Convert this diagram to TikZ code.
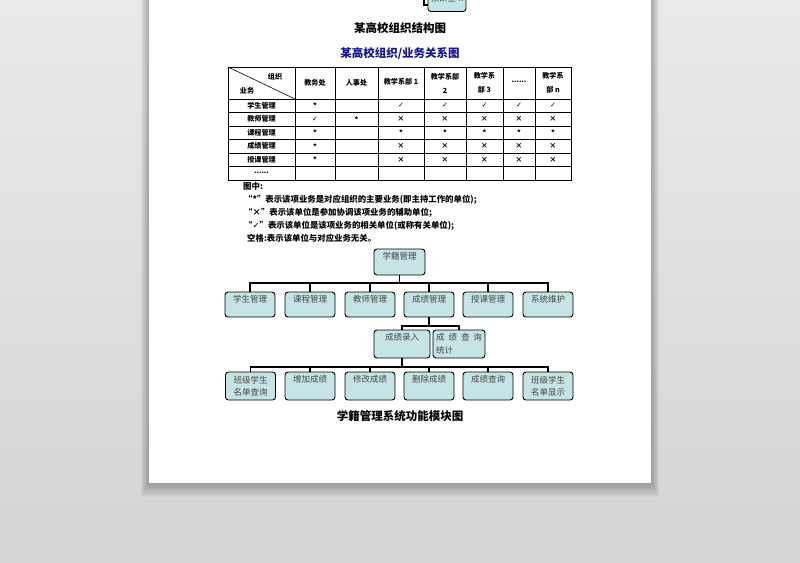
\documentclass[tikz,border=0pt]{standalone}
\usepackage{fontspec}
\setmainfont{Noto Sans CJK SC}
\newfontfamily\dvs{DejaVu Sans}
\usetikzlibrary{calc}
\definecolor{bgtop}{RGB}{234,234,234}
\definecolor{bgbot}{RGB}{212,212,212}
\definecolor{boxfill}{RGB}{198,228,229}
\definecolor{navyt}{RGB}{22,22,140}
\definecolor{boxtext}{RGB}{70,70,70}
\newcommand\rowdots{......}
\newcommand\ck{{\dvs\bfseries ✓}}
\newcommand\st{\raisebox{-1.5pt}{*}}
\tikzset{
  tcell/.style={inner sep=0pt, font=\bfseries\fontsize{7.1}{14}\selectfont, align=center},
  tline/.style={line width=0.6pt, black},
  legend/.style={inner sep=0pt, anchor=base west, font=\bfseries\fontsize{8.4}{9}\selectfont},
  ttl/.style={inner sep=0pt, font=\bfseries\fontsize{11.5}{13}\selectfont},
  tb/.style={draw=black, line width=0.9pt, fill=boxfill, rounded corners=3pt, text=boxtext,
     font=\fontsize{8.5}{12.5}\selectfont, inner xsep=1pt, inner ysep=2pt},
  tb1/.style={tb, minimum width=50pt, text height=8.5pt, text depth=12.5pt},
  tb2/.style={tb, minimum width=50pt, minimum height=28pt, align=center},
  conn/.style={line width=1.8pt, black, line cap=rect}
}
\begin{document}
\begin{tikzpicture}[x=1pt,y=-1pt]
\useasboundingbox (0,0) rectangle (800,562);
% background
\shade[top color=bgtop, bottom color=bgbot] (0,0) rectangle (800,562);
\foreach \k in {1,...,12}
  \fill[black,opacity=0.025] (149-\k*0.7,-5) rectangle (651+\k*0.7,483+\k*1.2);
\fill[white] (149,0) rectangle (651,483);

\begin{scope}
\clip (149,0) rectangle (651,483);
% partial box at top
\node[tb, minimum width=38pt, minimum height=26.5pt] (jys) at (447,-1.75) {\raisebox{-6pt}{教研室 n}};
\coordinate (jysin) at (424,-5);
\draw[conn] (jysin) |- ($(jys.south west)+(0,-7)$);
\end{scope}

% titles
\node[ttl] (t1) at (400,28) {某高校组织结构图};
\node[ttl, text=navyt] (t2) at (400,54) {某高校组织/业务关系图};

% table grid
\draw[line width=0.9pt] (228,67) rectangle (571,180);
\foreach \yy in {99,112.5,126,139.5,153,166.5}
  \draw[tline] (228,\yy) -- (571,\yy);
\foreach \xx in {295,335,378,424,466,503,535}
  \draw[tline] (\xx,67) -- (\xx,180);
\draw[tline] (228,67) -- (295,99);

% header
\node[tcell] (hz) at (275,77) {组织};
\node[tcell] (hy) at (247,91) {业务};
\node[tcell] (h1) at (315,83) {教务处};
\node[tcell] (h2) at (356.5,83) {人事处};
\node[tcell] (h3) at (401,82) {教学系部 1};
\node[tcell] (h4) at (445,83) {教学系部\\2};
\node[tcell] (h5) at (484.5,83) {教学系\\部 3};
\node[tcell] (h6) at (519,82) {\rowdots};
\node[tcell] (h7) at (553,83) {教学系\\部 n};

% table body
\def\colx{{315,356.5,401,445,484.5,519,553}}
\foreach \lab/\vals [count=\i] in {学生管理/{\st,{},\ck,\ck,\ck,\ck,\ck},教师管理/{\ck,\st,×,×,×,×,×},课程管理/{\st,{},\st,\st,\st,\st,\st},成绩管理/{\st,{},×,×,×,×,×},授课管理/{\st,{},×,×,×,×,×},\rowdots/{{},{},{},{},{},{},{}}}{
  \pgfmathsetmacro\yy{92.25+13.5*\i}
  \node[tcell] (rl\i) at (261.5,\yy) {\lab};
  \foreach \v [count=\j] in \vals {
    \pgfmathsetmacro\xx{\colx[\j-1]}
    \node[tcell] (c\i-\j) at (\xx,\yy) {\v};
  }
}

% legend
\node[legend] (lg0) at (243,189) {图中:};
\node[legend] (lg1) at (244,202) {“*”表示该项业务是对应组织的主要业务(即主持工作的单位);};
\node[legend] (lg2) at (244,215) {“×”表示该单位是参加协调该项业务的辅助单位;};
\node[legend] (lg3) at (244,228) {“\ck”表示该单位是该项业务的相关单位(或称有关单位);};
\node[legend] (lg4) at (247,241) {空格:表示该单位与对应业务无关。};

% tree
\node[tb, minimum width=51pt, text height=8.5pt, text depth=13.5pt] (root) at (399.5,262) {学籍管理};

\node[tb1] (l2a) at (250,304.5) {学生管理};
\node[tb1] (l2b) at (310,304.5) {课程管理};
\node[tb1] (l2c) at (370,304.5) {教师管理};
\node[tb1] (l2d) at (429,304.5) {成绩管理};
\node[tb1] (l2e) at (488,304.5) {授课管理};
\node[tb1] (l2f) at (548,304.5) {系统维护};

\node[tb, minimum width=56pt, text height=8.5pt, text depth=15.5pt] (l3a) at (402,344) {成绩录入};
\node[tb, minimum width=52pt, minimum height=28pt, align=left] (l3b) at (459,344) {\makebox[46pt][s]{成\hfil 绩\hfil 查\hfil 询}\\统计};

\node[tb2] (l4a) at (250.5,386) {班级学生\\名单查询};
\node[tb1, text depth=15.5pt] (l4b) at (310,386) {增加成绩};
\node[tb1, text depth=15.5pt] (l4c) at (370,386) {修改成绩};
\node[tb1, text depth=15.5pt] (l4d) at (429,386) {删除成绩};
\node[tb1, text depth=15.5pt] (l4e) at (488,386) {成绩查询};
\node[tb2] (l4f) at (548,386) {班级学生\\名单显示};

\coordinate (b1) at (399.5,283);
\coordinate (b2) at (429,326);
\coordinate (b3) at (402,367);
\draw[conn] (root.south) -- (root.south |- b1);
\draw[conn] (l2a.north |- b1) -- (l2f.north |- b1);
\foreach \n in {l2a,l2b,l2c,l2d,l2e,l2f}
  \draw[conn] (\n.north |- b1) -- (\n.north);
\draw[conn] (l2d.south) -- (l2d.south |- b2);
\draw[conn] (l3a.north |- b2) -- (l3b.north |- b2);
\foreach \n in {l3a,l3b}
  \draw[conn] (\n.north |- b2) -- (\n.north);
\draw[conn] (l3a.south) -- (l3a.south |- b3);
\draw[conn] (l4a.north |- b3) -- (l4f.north |- b3);
\foreach \n in {l4a,l4b,l4c,l4d,l4e,l4f}
  \draw[conn] (\n.north |- b3) -- (\n.north);

\node[ttl] (cap) at (400,416) {学籍管理系统功能模块图};
\end{tikzpicture}
\end{document}
